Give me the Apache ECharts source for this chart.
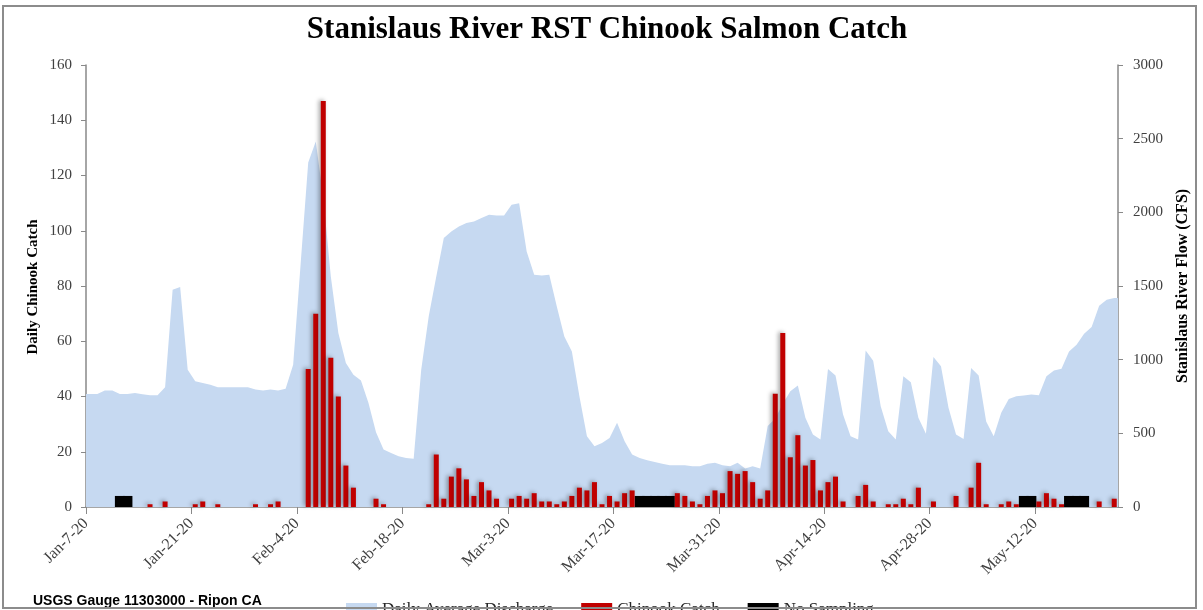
<!DOCTYPE html>
<html>
<head>
<meta charset="utf-8">
<script src="https://cdn.jsdelivr.net/npm/echarts@6/dist/echarts.min.js"></script>
<style>
  html, body { margin: 0; padding: 0; background: #fff; }
  #main { width: 1203px; height: 610px; }
</style>
</head>
<body>
<div id="main"></div>
<script>
// daily values, Jan-7-20 .. May-22-20 (137 days)
const tickLabels = ["Jan-7-20", "Jan-21-20", "Feb-4-20", "Feb-18-20", "Mar-3-20",
  "Mar-17-20", "Mar-31-20", "Apr-14-20", "Apr-28-20", "May-12-20"];

const chinookCatch = [
  0, 0, 0, 0, 0, 0, 0, 0, 1, 0,
  2, 0, 0, 0, 1, 2, 0, 1, 0, 0,
  0, 0, 1, 0, 1, 2, 0, 0, 0, 50,
  70, 147, 54, 40, 15, 7, 0, 0, 3, 1,
  0, 0, 0, 0, 0, 1, 19, 3, 11, 14,
  10, 4, 9, 6, 3, 0, 3, 4, 3, 5,
  2, 2, 1, 2, 4, 7, 6, 9, 1, 4,
  2, 5, 6, 0, 0, 0, 0, 0, 5, 4,
  2, 1, 4, 6, 5, 13, 12, 13, 9, 3,
  6, 41, 63, 18, 26, 15, 17, 6, 9, 11,
  2, 0, 4, 8, 2, 0, 1, 1, 3, 1,
  7, 0, 2, 0, 0, 4, 0, 7, 16, 1,
  0, 1, 2, 1, 0, 0, 2, 5, 3, 1,
  0, 0, 0, 0, 2, 0, 3
];

const discharge = [
  767, 767, 790, 790, 767, 767, 774, 765, 758, 758,
  812, 1475, 1493, 932, 853, 842, 830, 812, 812, 812,
  812, 812, 797, 790, 797, 790, 803, 966, 1655, 2338,
  2480, 2100, 1565, 1181, 977, 898, 858, 706, 507, 390,
  367, 344, 333, 327, 932, 1294, 1565, 1825, 1870, 1904,
  1927, 1938, 1961, 1983, 1979, 1979, 2051, 2062, 1734, 1576,
  1572, 1576, 1361, 1158, 1056, 751, 480, 412, 435, 469,
  571, 446, 356, 333, 317, 306, 293, 283, 283, 283,
  277, 277, 293, 300, 283, 277, 300, 261, 277, 261,
  550, 600, 700, 785, 824, 605, 492, 458, 937, 892,
  627, 480, 458, 1063, 993, 683, 514, 458, 887, 846,
  605, 498, 1018, 955, 673, 492, 462, 944, 892, 580,
  480, 640, 733, 751, 756, 763, 758, 887, 927, 939,
  1056, 1102, 1176, 1222, 1366, 1407, 1418
];

const noSamplingDays = [4, 5, 73, 74, 75, 76, 77, 124, 125, 130, 131, 132];
const noSamplingHeight = 4;

const serif = "'Liberation Serif', 'Times New Roman', serif";
const axisGray = "#898989";
const labelColor = "#404040";

const days = chinookCatch.map((v, i) => String(i));
const catchBars = chinookCatch.map(v => (v > 0 ? v : null));
const noSampling = days.map((d, i) => (noSamplingDays.indexOf(i) >= 0 ? noSamplingHeight : null));
const flowPoints = [[0, discharge[0]]]
  .concat(discharge.map((v, i) => [i + 0.5, v]))
  .concat([[discharge.length, discharge[discharge.length - 1]]]);

const chart = echarts.init(document.getElementById("main"));

chart.setOption({
  animation: false,
  backgroundColor: "#fff",
  textStyle: { fontFamily: serif },
  grid: { left: 86, right: 85, top: 65, bottom: 103 },
  legend: {
    left: 341,
    top: 596,
    icon: "rect",
    itemWidth: 31,
    itemHeight: 13,
    itemGap: 28,
    textStyle: { fontFamily: serif, fontSize: 17, color: "#262626" },
    data: ["Daily Average Discharge", "Chinook Catch", "No Sampling"]
  },
  graphic: [
    {
      type: "rect",
      shape: { x: 3, y: 6, width: 1193, height: 602 },
      style: { fill: "none", stroke: "#8c8c8c", lineWidth: 2 },
      z: 100
    },
    {
      type: "text",
      x: 607,
      y: 30,
      style: {
        text: "Stanislaus River RST Chinook Salmon Catch",
        font: "bold 31px " + serif,
        fill: "#000",
        align: "center",
        verticalAlign: "middle"
      }
    },
    {
      type: "text",
      x: 33,
      y: 287,
      rotation: Math.PI / 2,
      style: {
        text: "Daily Chinook Catch",
        font: "bold 15px " + serif,
        fill: "#000",
        align: "center",
        verticalAlign: "middle"
      }
    },
    {
      type: "text",
      x: 1183,
      y: 286,
      rotation: Math.PI / 2,
      style: {
        text: "Stanislaus River Flow (CFS)",
        font: "bold 16px " + serif,
        fill: "#000",
        align: "center",
        verticalAlign: "middle"
      }
    },
    {
      type: "text",
      x: 33,
      y: 601,
      style: {
        text: "USGS Gauge 11303000 - Ripon CA",
        font: "bold 14px 'Liberation Sans', Arial, sans-serif",
        fill: "#000",
        align: "left",
        verticalAlign: "middle"
      }
    }
  ],
  xAxis: [
    {
      type: "category",
      data: days,
      boundaryGap: true,
      axisLine: { lineStyle: { color: axisGray, width: 1.5 } },
      axisTick: { interval: 0, length: 4, lineStyle: { color: axisGray } },
      axisLabel: { show: false },
      splitLine: { show: false }
    },
    {
      type: "value",
      min: 0,
      max: days.length,
      interval: 14,
      position: "bottom",
      axisLine: { show: false },
      axisTick: { show: true, length: 7, lineStyle: { color: axisGray } },
      axisLabel: {
        rotate: 45,
        margin: 14,
        showMaxLabel: false,
        fontFamily: serif,
        fontSize: 16,
        color: labelColor,
        formatter: v => tickLabels[v / 14] || ""
      },
      splitLine: { show: false }
    },
    {
      type: "category",
      data: days,
      boundaryGap: true,
      show: false
    }
  ],
  yAxis: [
    {
      type: "value",
      min: 0,
      max: 160,
      interval: 20,
      axisLine: { show: true, lineStyle: { color: axisGray, width: 1.5 } },
      axisTick: { show: true, length: 5, lineStyle: { color: axisGray } },
      axisLabel: { margin: 14, fontFamily: serif, fontSize: 15, color: labelColor },
      splitLine: { show: false }
    },
    {
      type: "value",
      min: 0,
      max: 3000,
      interval: 500,
      position: "right",
      axisLine: { show: true, lineStyle: { color: axisGray, width: 1.5 } },
      axisTick: { show: true, length: 5, lineStyle: { color: axisGray } },
      axisLabel: {
        margin: 15,
        fontFamily: serif,
        fontSize: 15,
        color: labelColor,
        formatter: v => String(v)
      },
      splitLine: { show: false }
    }
  ],
  series: [
    {
      name: "Daily Average Discharge",
      type: "line",
      xAxisIndex: 1,
      yAxisIndex: 1,
      data: flowPoints,
      symbol: "none",
      lineStyle: { width: 0 },
      itemStyle: { color: "#C6D9F1" },
      areaStyle: { color: "#C6D9F1", opacity: 1 },
      z: 1
    },
    {
      name: "No Sampling",
      type: "bar",
      xAxisIndex: 2,
      yAxisIndex: 0,
      data: noSampling,
      barWidth: 10,
      itemStyle: { color: "#000" },
      z: 2
    },
    {
      name: "Chinook Catch",
      type: "bar",
      xAxisIndex: 0,
      yAxisIndex: 0,
      data: catchBars,
      barWidth: 5,
      itemStyle: {
        color: "#C00000",
        shadowColor: "rgba(0,0,0,0.35)",
        shadowBlur: 4,
        shadowOffsetX: -2,
        shadowOffsetY: -1
      },
      z: 3
    }
  ]
});
</script>
</body>
</html>
